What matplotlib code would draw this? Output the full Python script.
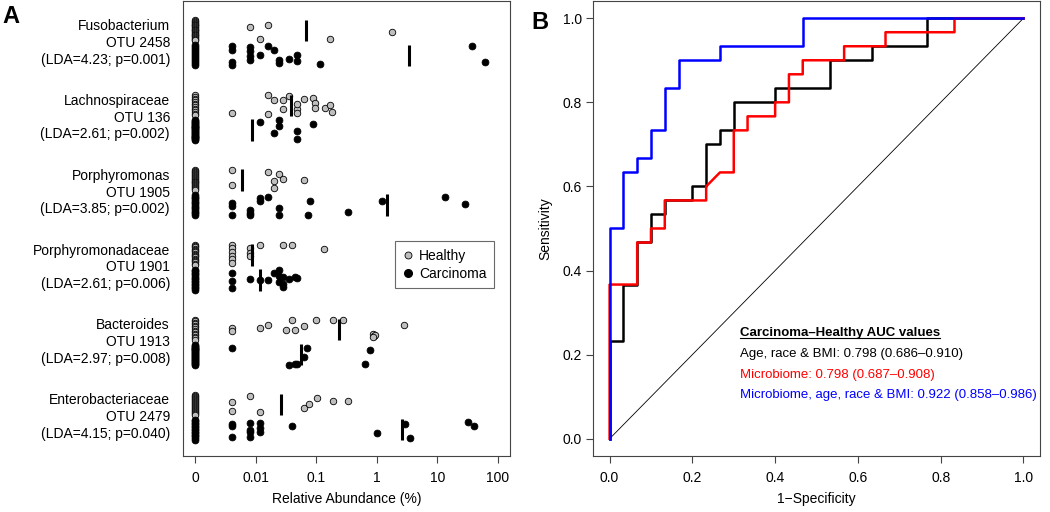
import numpy as np
import matplotlib
matplotlib.use('Agg')
import matplotlib.pyplot as plt
import matplotlib.transforms as mtransforms
from matplotlib.lines import Line2D

plt.rcParams['font.family'] = ['Liberation Sans', 'DejaVu Sans']
plt.rcParams['font.size'] = 10

# ---------------- Panel A data ----------------
# non-zero relative abundances (%) per OTU, 30 subjects per class (rest are 0)
n_per_class = 30
otu_labels = [
    'Fusobacterium\nOTU 2458\n(LDA=4.23; p=0.001)',
    'Lachnospiraceae\nOTU 136\n(LDA=2.61; p=0.002)',
    'Porphyromonas\nOTU 1905\n(LDA=3.85; p=0.002)',
    'Porphyromonadaceae\nOTU 1901\n(LDA=2.61; p=0.006)',
    'Bacteroides\nOTU 1913\n(LDA=2.97; p=0.008)',
    'Enterobacteriaceae\nOTU 2479\n(LDA=4.15; p=0.040)',
]

healthy_vals = [
    [0.008, 0.016, 0.012, 0.172, 1.8],
    [0.004, 0.016, 0.016, 0.020, 0.028, 0.028, 0.036, 0.048, 0.048, 0.048,
     0.064, 0.088, 0.095, 0.095, 0.139, 0.172, 0.184],
    [0.004, 0.004, 0.016, 0.024, 0.028, 0.020, 0.020, 0.064],
    [0.004, 0.004, 0.004, 0.004, 0.004, 0.004, 0.008, 0.008, 0.008,
     0.012, 0.028, 0.040, 0.132],
    [0.004, 0.004, 0.012, 0.016, 0.032, 0.040, 0.044, 0.064, 0.10, 0.19,
     0.275, 0.85, 0.90, 0.95, 0.88, 2.85],
    [0.004, 0.004, 0.008, 0.012, 0.062, 0.076, 0.104, 0.19, 0.34],
]
carcinoma_vals = [
    [0.004, 0.004, 0.004, 0.004, 0.008, 0.008, 0.008, 0.008, 0.012, 0.016,
     0.020, 0.024, 0.024, 0.036, 0.048, 0.048, 0.115, 38, 62],
    [0.012, 0.024, 0.024, 0.020, 0.048, 0.048, 0.088],
    [0.004, 0.004, 0.004, 0.008, 0.008, 0.008, 0.012, 0.012, 0.016, 0.024,
     0.024, 0.080, 0.072, 0.34, 1.2, 13.5, 29],
    [0.004, 0.004, 0.004, 0.008, 0.012, 0.016, 0.020, 0.024, 0.024, 0.024,
     0.028, 0.028, 0.028, 0.036, 0.044, 0.048],
    [0.004, 0.036, 0.044, 0.048, 0.064, 0.070, 0.65, 0.76],
    [0.004, 0.004, 0.004, 0.008, 0.008, 0.008, 0.008, 0.012, 0.012, 0.012,
     0.040, 1.0, 2.9, 3.5, 32, 40],
]

# vertical jitter of the non-zero points (fraction of row spacing)
healthy_jit = [
    [-0.13, -0.23, 0.33, 0.33, 0.07],
    [0.33, -0.40, 0.36, -0.23, -0.23, 0.17, -0.36, 0.17, -0.03, 0.33,
     -0.27, -0.29, -0.09, 0.11, 0.11, 0.0, 0.28],
    [-0.40, 0.20, -0.32, -0.23, -0.03, 0.04, 0.33, 0.0],
    [-0.40, -0.27, -0.13, 0.04, 0.17, 0.31, -0.27, -0.09, 0.04,
     -0.40, -0.40, -0.40, -0.23],
    [-0.09, 0.04, -0.09, -0.19, 0.0, -0.40, 0.0, -0.16, -0.40, -0.40,
     -0.40, 0.17, 0.25, 0.20, 0.30, -0.20],
    [-0.09, 0.25, -0.35, 0.31, 0.12, -0.01, -0.28, -0.15, -0.15],
]
carcinoma_jit = [
    [-0.37, -0.23, 0.27, 0.37, -0.34, -0.17, 0.01, 0.17, -0.03, -0.39,
     -0.21, 0.17, 0.30, 0.14, -0.03, 0.23, 0.33, -0.39, 0.26],
    [-0.31, -0.40, -0.17, 0.12, 0.05, 0.35, -0.23],
    [-0.10, 0.04, 0.40, 0.20, 0.30, 0.40, -0.30, -0.15, -0.34, 0.12,
     0.40, -0.18, 0.40, 0.27, -0.18, -0.34, -0.04],
    [-0.28, 0.04, 0.32, -0.05, 0.01, 0.01, -0.28, -0.40, -0.15, 0.08,
     -0.12, 0.17, 0.30, -0.03, -0.12, -0.06],
    [-0.26, 0.42, 0.36, 0.36, 0.08, -0.26, 0.36, -0.17],
    [-0.23, -0.13, 0.29, -0.27, 0.0, 0.11, 0.29, -0.27, -0.07, 0.11,
     -0.16, 0.15, -0.24, 0.33, -0.31, -0.13],
]

# ---------------- Panel B data ----------------
# ROC step vertices, counts out of 30 subjects per class
roc_black_fp = [0, 0, 1, 1, 2, 2, 3, 3, 4, 4, 6, 6, 7, 7, 8, 8, 9, 9, 12, 12, 16, 16, 19, 19, 23, 23, 30]
roc_black_tp = [0, 7, 7, 11, 11, 14, 14, 16, 16, 17, 17, 18, 18, 21, 21, 22, 22, 24, 24, 25, 25, 27, 27, 28, 28, 30, 30]
roc_red_fp = [0, 0, 2, 2, 3, 3, 4, 4, 7, 7, 8, 9, 9, 10, 10, 12, 12, 13, 13, 14, 14, 17, 17, 20, 20, 25, 25, 30]
roc_red_tp = [0, 11, 11, 14, 14, 15, 15, 17, 17, 18, 19, 19, 22, 22, 23, 23, 24, 24, 26, 26, 27, 27, 28, 28, 29, 29, 30, 30]
roc_blue_fp = [0, 0, 1, 1, 2, 2, 3, 3, 4, 4, 5, 5, 8, 8, 14, 14, 30]
roc_blue_tp = [0, 15, 15, 19, 19, 20, 20, 22, 22, 25, 25, 27, 27, 28, 28, 30, 30]

auc_title = 'Carcinoma\u2013Healthy AUC values'
auc_lines = ['Age, race & BMI: 0.798 (0.686\u20130.910)',
             'Microbiome: 0.798 (0.687\u20130.908)',
             'Microbiome, age, race & BMI: 0.922 (0.858\u20130.986)']
auc_colors = ['black', 'red', 'blue']

fig = plt.figure(figsize=(10.5, 5.12), dpi=100)
spine_col = '#444444'

# ---------------- Panel A ----------------
ax1 = fig.add_axes([0.1743, 0.1094, 0.3114, 0.8887])
zero_pos = 1e-3
for g in range(len(otu_labels)):
    for vals, jit, row, face, size in [(healthy_vals[g], healthy_jit[g], 3 * g, '#BEBEBE', 22),
                                       (carcinoma_vals[g], carcinoma_jit[g], 3 * g + 1, 'black', 24)]:
        n_zero = n_per_class - len(vals)
        xs = [zero_pos] * n_zero + list(vals)
        ys = list(row + np.linspace(-0.4, 0.4, n_zero)) + [row + j for j in jit]
        ax1.scatter(xs, ys, s=size, facecolor=face, edgecolor='black', linewidths=0.6, zorder=2)
        mean = sum(vals) / n_per_class
        ax1.plot([mean, mean], [row - 0.43, row + 0.43], color='black', lw=2.2, zorder=3,
                 solid_capstyle='butt')
    trans = mtransforms.blended_transform_factory(ax1.transAxes, ax1.transData)
    ax1.text(-0.04, 3 * g + 0.5, otu_labels[g], transform=trans, ha='right', va='center',
             multialignment='right', linespacing=1.25, fontsize=10)

ax1.set_xscale('log')
ax1.set_xlim(10 ** -3.2, 10 ** 2.2)
ax1.set_ylim(17.06, -1.18)
ax1.set_xticks([1e-3, 1e-2, 1e-1, 1, 10, 100])
ax1.set_xticklabels(['0', '0.01', '0.1', '1', '10', '100'])
ax1.minorticks_off()
ax1.set_yticks([])
ax1.tick_params(axis='x', direction='out', length=5, width=0.8, color=spine_col, pad=6, labelsize=10)
ax1.set_xlabel('Relative Abundance (%)', fontsize=10)
ax1.xaxis.set_label_coords(0.5, -0.08)
for sp in ax1.spines.values():
    sp.set_color(spine_col)
    sp.set_linewidth(0.8)

handles = [Line2D([], [], marker='o', ls='', markerfacecolor='#BEBEBE', markeredgecolor='black',
                  markeredgewidth=0.6, markersize=5),
           Line2D([], [], marker='o', ls='', markerfacecolor='black', markeredgecolor='black',
                  markersize=5.5)]
leg = ax1.legend(handles, ['Healthy', 'Carcinoma'], loc='upper left', bbox_to_anchor=(0.648, 0.4725),
                 borderaxespad=0, fancybox=False, edgecolor=spine_col, handlelength=0.8,
                 handletextpad=0.4, borderpad=0.55, labelspacing=0.3, fontsize=10)
leg.get_frame().set_linewidth(0.8)

# ---------------- Panel B ----------------
ax2 = fig.add_axes([0.5648, 0.1094, 0.4257, 0.8887])
n_roc = 30
ax2.plot([0, 1], [0, 1], color='black', lw=0.6)
ax2.plot(np.array(roc_black_fp) / n_roc, np.array(roc_black_tp) / n_roc, color='black', lw=1.8)
ax2.plot(np.array(roc_red_fp) / n_roc, np.array(roc_red_tp) / n_roc, color='red', lw=1.8)
ax2.plot(np.array(roc_blue_fp) / n_roc, np.array(roc_blue_tp) / n_roc, color='blue', lw=1.8)
ax2.set_xlim(-0.04, 1.04)
ax2.set_ylim(-0.041, 1.041)
ticks = [0, 0.2, 0.4, 0.6, 0.8, 1.0]
ax2.set_xticks(ticks)
ax2.set_yticks(ticks)
ax2.set_xticklabels(['%.1f' % t for t in ticks])
ax2.set_yticklabels(['%.1f' % t for t in ticks])
ax2.tick_params(direction='out', length=5, width=0.8, color=spine_col, labelsize=10)
ax2.tick_params(axis='x', pad=6)
ax2.tick_params(axis='y', pad=3)
ax2.set_xlabel('1\u2212Specificity', fontsize=10)
ax2.set_ylabel('Sensitivity', fontsize=10)
ax2.xaxis.set_label_coords(0.5, -0.08)
ax2.yaxis.set_label_coords(-0.09, 0.5)
for sp in ax2.spines.values():
    sp.set_color(spine_col)
    sp.set_linewidth(0.8)

auc_size = 9.5
title_txt = ax2.text(0.315, 0.252, auc_title, fontsize=auc_size, fontweight='bold', ha='left', va='center')
for i, (line, col) in enumerate(zip(auc_lines, auc_colors)):
    ax2.text(0.315, 0.202 - 0.0495 * i, line, color=col, fontsize=auc_size, ha='left', va='center')

# underline the title
fig.canvas.draw()
bb = title_txt.get_window_extent().transformed(ax2.transData.inverted())
ax2.plot([bb.x0, bb.x1], [bb.y0 + 0.002, bb.y0 + 0.002], color='black', lw=0.8)

fig.text(0.002, 0.99, 'A', fontsize=17, fontweight='bold', va='top', ha='left')
fig.text(0.506, 0.978, 'B', fontsize=17, fontweight='bold', va='top', ha='left')

plt.savefig('out.png', dpi=100)
